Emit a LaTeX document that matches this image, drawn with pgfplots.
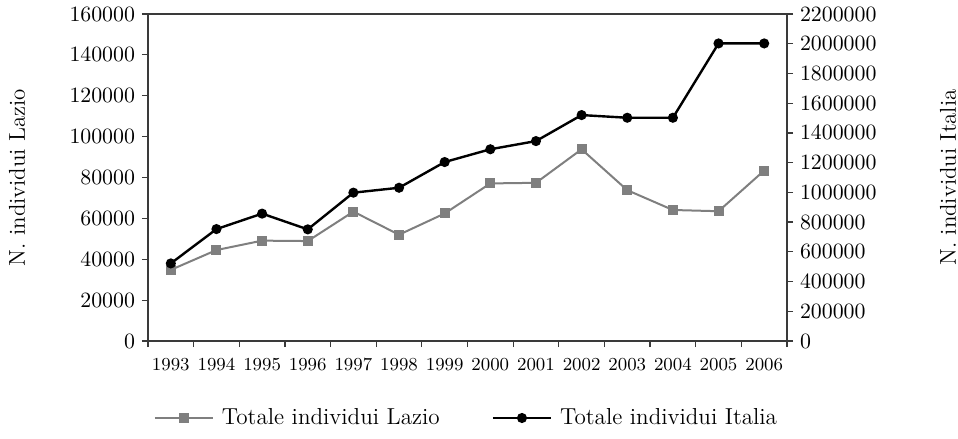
\documentclass[border=0pt]{standalone}
\usepackage{pgfplots}
\pgfplotsset{compat=1.18}
\definecolor{lazio}{HTML}{7F7F7F}
\definecolor{axgray}{HTML}{3A3A3A}
\begin{document}
\begin{tikzpicture}
\useasboundingbox (-74bp,-49bp) rectangle (405bp,170.5bp);
\pgfplotsset{
  common/.style={
    scale only axis, width=319.5bp, height=163.5bp,
    xmin=-0.5, xmax=13.5,
    tick label style={font=\fontsize{11}{12}\selectfont},
    y tick label style={/pgf/number format/fixed, /pgf/number format/precision=0, /pgf/number format/1000 sep={}},
    label style={font=\fontsize{11.5}{13}\selectfont},
    /pgf/number format/1000 sep={},
    scaled y ticks=false,
    tick style={axgray, line width=0.6pt},
    major tick length=3bp,
    tick align=outside,
    axis line style={axgray, line width=0.8pt},
  }
}
\begin{axis}[common,
  ymin=0, ymax=160000,
  ytick={0,20000,40000,60000,80000,100000,120000,140000,160000},
  ytick pos=left,
  xtick={-0.5,0.5,1.5,2.5,3.5,4.5,5.5,6.5,7.5,8.5,9.5,10.5,11.5,12.5,13.5},
  xticklabels={1993,1994,1995,1996,1997,1998,1999,2000,2001,2002,2003,2004,2005,2006,{}},
  x tick label style={font=\fontsize{9.2}{10}\selectfont, xshift=11.41bp, yshift=-2bp},
  xtick pos=bottom,
  ylabel={N. individui Lazio},
  ylabel style={at={(axis description cs:-0.205,0.5)}, anchor=center},
]
\addplot[color=lazio, line width=1bp, mark=square*, mark size=2bp, mark options={fill=lazio, draw=lazio}]
coordinates {
(0,34800) (1,44500) (2,49100) (3,48900) (4,63300) (5,52000) (6,62400)
(7,77100) (8,77400) (9,93800) (10,73800) (11,64100) (12,63500) (13,83400)
};
\end{axis}
\begin{axis}[common,
  ymin=0, ymax=2200000,
  ytick={0,200000,400000,600000,800000,1000000,1200000,1400000,1600000,1800000,2000000,2200000},
  axis y line*=right,
  axis x line=none,
  ylabel={N. individui Italia},
  ylabel style={at={(axis description cs:1.252,0.5)}, anchor=center, rotate=0},
  legend style={at={(axis description cs:0.5,-0.2355)}, anchor=center, draw=none,
    font=\fontsize{11.6}{13}\selectfont,
    /tikz/every even column/.append style={column sep=24bp}},
  legend columns=2,
  legend image code/.code={\draw[mark repeat=2,mark phase=2] plot coordinates {(0bp,0bp)(14.5bp,0bp)(29bp,0bp)};},
]
\addlegendimage{color=lazio, line width=1bp, mark=square*, mark size=2bp, mark options={fill=lazio, draw=lazio}}
\addlegendentry{\hspace{2bp}Totale individui Lazio}
\addplot[color=black, line width=1.2bp, mark=*, mark size=1.9bp, mark options={fill=black}]
coordinates {
(0,522000) (1,753000) (2,857000) (3,751000) (4,998000) (5,1031000) (6,1204000)
(7,1290000) (8,1345000) (9,1520000) (10,1502000) (11,1502000) (12,2002000) (13,2002000)
};
\addlegendentry{\hspace{2bp}Totale individui Italia}
\end{axis}
\end{tikzpicture}
\end{document}
